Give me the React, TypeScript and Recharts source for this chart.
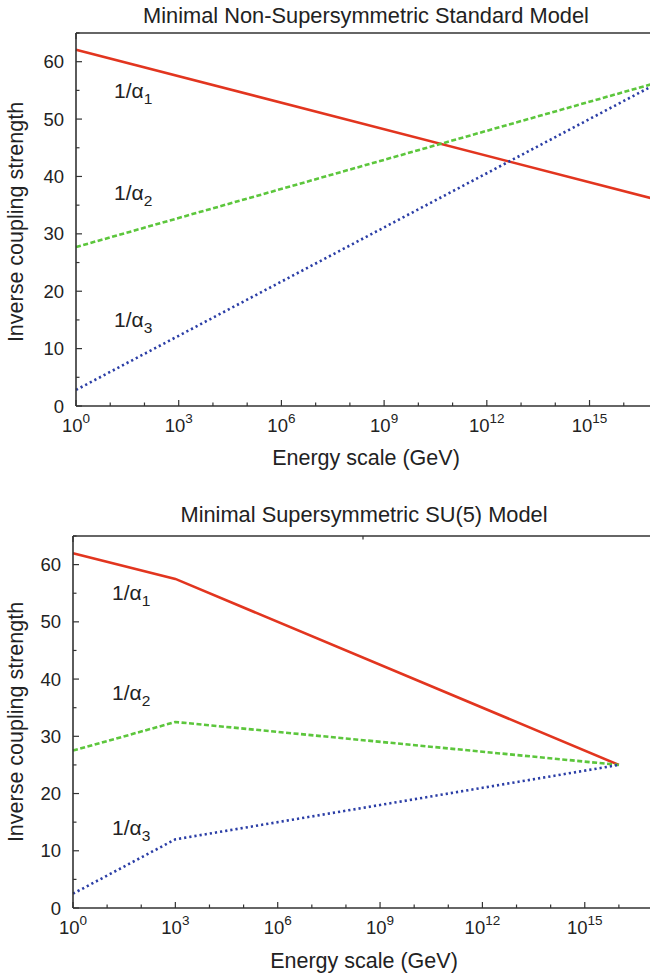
import { Line, LineChart, XAxis, YAxis } from 'recharts';

// log10(E / GeV) positions and inverse couplings
const smEnergy = [0, 17];
const smAlpha1 = [62.1, 35.9];
const smAlpha2 = [27.7, 56.4];
const smAlpha3 = [2.8, 56.3];

const susyEnergy = [0, 3, 16];
const susyAlpha1 = [62, 57.5, 25];
const susyAlpha2 = [27.5, 32.5, 25];
const susyAlpha3 = [2.5, 12, 25];

const decadeTicks = [0, 1, 2, 3, 4, 5, 6, 7, 8, 9, 10, 11, 12, 13, 14, 15, 16, 17];
const couplingTicks = [0, 5, 10, 15, 20, 25, 30, 35, 40, 45, 50, 55, 60, 65];

const FONT = '"Liberation Sans", Arial, Helvetica, sans-serif';
const INK = '#222';
const AXIS = '#333';
const RED = '#e2351f';
const GREEN = '#5cc63c';
const BLUE = '#2b3ea6';

type TickProps = { x: number; y: number; payload: { value: number } };

const BottomTick = ({ x, y, payload }: TickProps) => {
    const v = payload.value;
    const major = v % 3 === 0;
    return (
        <g>
            <line x1={x} x2={x} y1={y} y2={y - (major ? 6 : 3.5)} stroke={AXIS} strokeWidth={1.2} />
            {major && v <= 15 && (
                <text x={x} y={y + 26} textAnchor="middle" fontFamily={FONT} fontSize={18.5} fill={INK}>
                    10
                    <tspan dy={-9} fontSize={13.5}>
                        {v}
                    </tspan>
                </text>
            )}
        </g>
    );
};

const TopTick = ({ x, y, payload }: TickProps) => {
    const major = payload.value % 3 === 0;
    return <line x1={x} x2={x} y1={y} y2={y + (major ? 6 : 3.5)} stroke={AXIS} strokeWidth={1.2} />;
};

const LeftTick = ({ x, y, payload }: TickProps) => {
    const v = payload.value;
    const major = v % 10 === 0;
    return (
        <g>
            <line x1={x} x2={x + (major ? 6 : 3.5)} y1={y} y2={y} stroke={AXIS} strokeWidth={1.2} />
            {major && (
                <text x={x - 12} y={y + 6.5} textAnchor="end" fontFamily={FONT} fontSize={18.5} fill={INK}>
                    {v}
                </text>
            )}
        </g>
    );
};

const RightTick = ({ x, y, payload }: TickProps) => {
    const major = payload.value % 10 === 0;
    return <line x1={x} x2={x - (major ? 6 : 3.5)} y1={y} y2={y} stroke={AXIS} strokeWidth={1.2} />;
};

interface PanelProps {
    energy: number[];
    a1: number[];
    a2: number[];
    a3: number[];
    height: number;
    margin: { top: number; right: number; bottom: number; left: number };
}

// axes take 1px each, margins are the plot-box edges minus that pixel
const Panel = ({ energy, a1, a2, a3, height, margin }: PanelProps) => {
    const data = energy.map((e, i) => ({ e, a1: a1[i], a2: a2[i], a3: a3[i] }));
    const axisLine = { stroke: AXIS, strokeWidth: 1.6 };
    return (
        <LineChart width={660} height={height} data={data} margin={margin}>
            <XAxis
                dataKey="e"
                type="number"
                domain={[0, 17]}
                ticks={decadeTicks}
                interval={0}
                height={1}
                tickSize={0}
                tickMargin={0}
                tickLine={false}
                axisLine={axisLine}
                tick={(p) => <BottomTick {...(p as TickProps)} />}
            />
            <XAxis
                xAxisId="top"
                orientation="top"
                type="number"
                domain={[0, 17]}
                ticks={decadeTicks}
                interval={0}
                height={1}
                tickSize={0}
                tickMargin={0}
                tickLine={false}
                axisLine={axisLine}
                tick={(p) => <TopTick {...(p as TickProps)} />}
            />
            <YAxis
                type="number"
                domain={[0, 65]}
                ticks={couplingTicks}
                interval={0}
                width={1}
                tickSize={0}
                tickMargin={0}
                tickLine={false}
                axisLine={axisLine}
                tick={(p) => <LeftTick {...(p as TickProps)} />}
            />
            <YAxis
                yAxisId="right"
                orientation="right"
                type="number"
                domain={[0, 65]}
                ticks={couplingTicks}
                interval={0}
                width={1}
                tickSize={0}
                tickMargin={0}
                tickLine={false}
                axisLine={axisLine}
                tick={(p) => <RightTick {...(p as TickProps)} />}
            />
            <Line type="linear" dataKey="a1" stroke={RED} strokeWidth={2.6} dot={false} isAnimationActive={false} />
            <Line
                type="linear"
                dataKey="a2"
                stroke={GREEN}
                strokeWidth={2.6}
                strokeDasharray="5 2.5"
                dot={false}
                isAnimationActive={false}
            />
            <Line
                type="linear"
                dataKey="a3"
                stroke={BLUE}
                strokeWidth={2.6}
                strokeDasharray="2.2 3"
                dot={false}
                isAnimationActive={false}
            />
        </LineChart>
    );
};

const AlphaLabel = ({ x, y, n }: { x: number; y: number; n: number }) => (
    <text x={x} y={y} fontFamily={FONT} fontSize={21} fill={INK}>
        1/α
        <tspan dy={6} fontSize={15.5}>
            {n}
        </tspan>
    </text>
);

const App = () => {
    return (
        <div
            style={{
                position: 'absolute',
                left: 0,
                top: 0,
                width: 650,
                height: 977,
                overflow: 'hidden',
                background: '#fff',
            }}
        >
            <div style={{ position: 'absolute', left: 0, top: 0 }}>
                <Panel
                    energy={smEnergy}
                    a1={smAlpha1}
                    a2={smAlpha2}
                    a3={smAlpha3}
                    height={488}
                    margin={{ top: 32, right: 1, bottom: 81, left: 75 }}
                />
            </div>
            <div style={{ position: 'absolute', left: 0, top: 488 }}>
                <Panel
                    energy={susyEnergy}
                    a1={susyAlpha1}
                    a2={susyAlpha2}
                    a3={susyAlpha3}
                    height={489}
                    margin={{ top: 47, right: 6, bottom: 68, left: 72 }}
                />
            </div>
            <svg
                width={650}
                height={977}
                style={{ position: 'absolute', left: 0, top: 0, pointerEvents: 'none' }}
            >
                <text x={366} y={23} textAnchor="middle" fontFamily={FONT} fontSize={21.8} fill={INK}>
                    Minimal Non-Supersymmetric Standard Model
                </text>
                <text x={366} y={465} textAnchor="middle" fontFamily={FONT} fontSize={21.5} fill={INK}>
                    Energy scale (GeV)
                </text>
                <text
                    transform="translate(23,222) rotate(-90)"
                    textAnchor="middle"
                    fontFamily={FONT}
                    fontSize={21.5}
                    fill={INK}
                >
                    Inverse coupling strength
                </text>
                <AlphaLabel x={114} y={98} n={1} />
                <AlphaLabel x={114} y={200} n={2} />
                <AlphaLabel x={114} y={327} n={3} />

                <text x={364} y={522} textAnchor="middle" fontFamily={FONT} fontSize={21.8} fill={INK}>
                    Minimal Supersymmetric SU(5) Model
                </text>
                <text x={364} y={968} textAnchor="middle" fontFamily={FONT} fontSize={21.5} fill={INK}>
                    Energy scale (GeV)
                </text>
                <text
                    transform="translate(23,722) rotate(-90)"
                    textAnchor="middle"
                    fontFamily={FONT}
                    fontSize={21.5}
                    fill={INK}
                >
                    Inverse coupling strength
                </text>
                <AlphaLabel x={112} y={600} n={1} />
                <AlphaLabel x={112} y={700} n={2} />
                <AlphaLabel x={112} y={835} n={3} />
            </svg>
        </div>
    );
};

export default App;
